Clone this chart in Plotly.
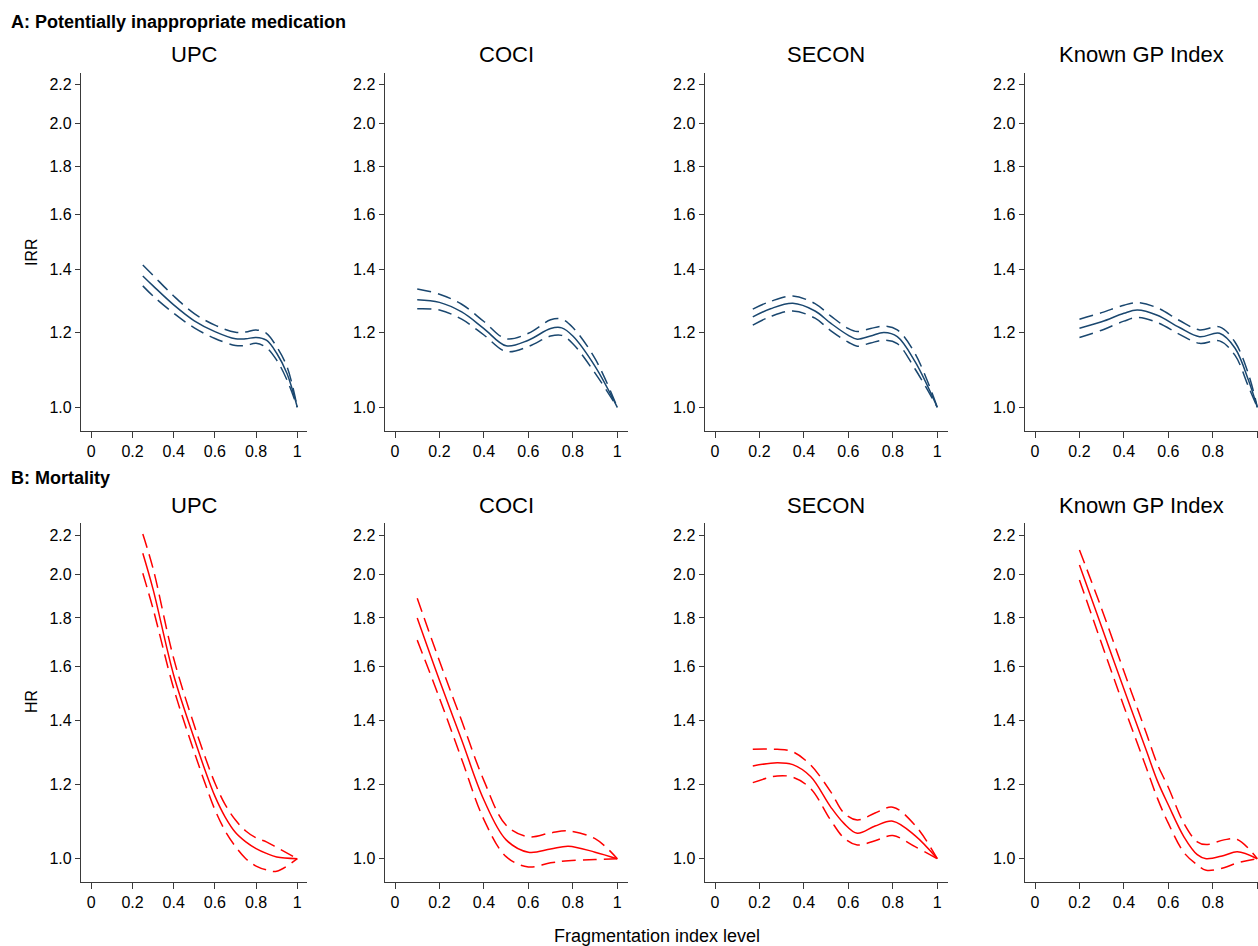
import plotly.graph_objects as go

# Panel A: potentially inappropriate medication (IRR)
a_upc_x = [0.25, 0.3, 0.4, 0.5, 0.6, 0.7, 0.75, 0.8, 0.85, 0.9, 0.95, 1.0]
a_upc_est = [1.378, 1.345, 1.284, 1.235, 1.203, 1.182, 1.182, 1.186, 1.178, 1.141, 1.086, 1.0]
a_upc_hi = [1.415, 1.380, 1.312, 1.257, 1.222, 1.201, 1.202, 1.208, 1.198, 1.159, 1.104, 1.0]
a_upc_lo = [1.345, 1.312, 1.258, 1.214, 1.183, 1.163, 1.163, 1.169, 1.157, 1.122, 1.069, 1.0]

a_coci_x = [0.1, 0.2, 0.3, 0.4, 0.5, 0.6, 0.7, 0.75, 0.8, 0.9, 1.0]
a_coci_est = [1.300, 1.292, 1.262, 1.212, 1.162, 1.178, 1.212, 1.214, 1.190, 1.105, 1.0]
a_coci_hi = [1.335, 1.318, 1.286, 1.233, 1.182, 1.198, 1.238, 1.240, 1.215, 1.126, 1.0]
a_coci_lo = [1.272, 1.268, 1.240, 1.193, 1.146, 1.160, 1.190, 1.192, 1.168, 1.087, 1.0]

a_secon_x = [0.17, 0.25, 0.35, 0.45, 0.52, 0.6, 0.64, 0.7, 0.76, 0.82, 0.9, 1.0]
a_secon_est = [1.247, 1.272, 1.289, 1.265, 1.228, 1.192, 1.181, 1.190, 1.200, 1.188, 1.118, 1.0]
a_secon_hi = [1.271, 1.295, 1.312, 1.288, 1.250, 1.212, 1.203, 1.212, 1.219, 1.208, 1.140, 1.0]
a_secon_lo = [1.222, 1.248, 1.265, 1.243, 1.206, 1.172, 1.161, 1.170, 1.178, 1.168, 1.098, 1.0]

a_kgp_x = [0.2, 0.3, 0.4, 0.46, 0.55, 0.65, 0.74, 0.83, 0.9, 0.96, 1.0]
a_kgp_est = [1.213, 1.232, 1.258, 1.268, 1.252, 1.215, 1.188, 1.198, 1.155, 1.069, 1.0]
a_kgp_hi = [1.240, 1.260, 1.283, 1.291, 1.275, 1.236, 1.208, 1.217, 1.172, 1.085, 1.0]
a_kgp_lo = [1.186, 1.207, 1.234, 1.245, 1.230, 1.195, 1.169, 1.176, 1.135, 1.052, 1.0]

# Panel B: mortality (HR)
b_upc_x = [0.25, 0.3, 0.4, 0.5, 0.55, 0.6, 0.65, 0.7, 0.75, 0.8, 0.85, 0.9, 1.0]
b_upc_est = [2.108, 1.93, 1.565, 1.34, 1.245, 1.165, 1.107, 1.066, 1.042, 1.025, 1.013, 1.004, 1.0]
b_upc_hi = [2.209, 2.03, 1.63, 1.384, 1.286, 1.203, 1.141, 1.099, 1.07, 1.052, 1.042, 1.028, 1.0]
b_upc_lo = [2.007, 1.84, 1.515, 1.297, 1.206, 1.127, 1.07, 1.03, 1.0, 0.982, 0.973, 0.970, 1.0]

b_coci_x = [0.1, 0.2, 0.3, 0.4, 0.5, 0.6, 0.7, 0.78, 0.9, 1.0]
b_coci_est = [1.80, 1.546, 1.336, 1.154, 1.047, 1.016, 1.024, 1.031, 1.016, 1.0]
b_coci_hi = [1.889, 1.62, 1.40, 1.21, 1.085, 1.055, 1.065, 1.07, 1.05, 1.0]
b_coci_lo = [1.705, 1.48, 1.275, 1.10, 1.005, 0.980, 0.990, 0.995, 0.998, 1.0]

b_secon_x = [0.17, 0.28, 0.35, 0.43, 0.52, 0.58, 0.64, 0.72, 0.8, 0.9, 1.0]
b_secon_est = [1.254, 1.264, 1.258, 1.222, 1.135, 1.09, 1.064, 1.083, 1.096, 1.058, 1.0]
b_secon_hi = [1.306, 1.306, 1.298, 1.257, 1.178, 1.118, 1.099, 1.118, 1.134, 1.085, 1.0]
b_secon_lo = [1.204, 1.224, 1.220, 1.187, 1.099, 1.052, 1.034, 1.045, 1.058, 1.030, 1.0]

b_kgp_x = [0.2, 0.3, 0.4, 0.5, 0.55, 0.6, 0.67, 0.73, 0.77, 0.85, 0.91, 1.0]
b_kgp_est = [2.048, 1.76, 1.513, 1.304, 1.21, 1.14, 1.055, 1.01, 1.0, 1.008, 1.017, 1.0]
b_kgp_hi = [2.125, 1.84, 1.58, 1.36, 1.26, 1.19, 1.09, 1.042, 1.035, 1.047, 1.048, 1.0]
b_kgp_lo = [1.975, 1.69, 1.45, 1.25, 1.16, 1.09, 1.015, 0.985, 0.972, 0.978, 0.99, 1.0]

titles = ["UPC", "COCI", "SECON", "Known GP Index"]
y_ticks = [1.0, 1.2, 1.4, 1.6, 1.8, 2.0, 2.2]
y_ticktext = ["1.0", "1.2", "1.4", "1.6", "1.8", "2.0", "2.2"]
x_ticks = [0, 0.2, 0.4, 0.6, 0.8, 1]
x_ticktext = ["0", "0.2", "0.4", "0.6", "0.8", "1"]

panels = [
    (a_upc_x, a_upc_est, a_upc_hi, a_upc_lo),
    (a_coci_x, a_coci_est, a_coci_hi, a_coci_lo),
    (a_secon_x, a_secon_est, a_secon_hi, a_secon_lo),
    (a_kgp_x, a_kgp_est, a_kgp_hi, a_kgp_lo),
    (b_upc_x, b_upc_est, b_upc_hi, b_upc_lo),
    (b_coci_x, b_coci_est, b_coci_hi, b_coci_lo),
    (b_secon_x, b_secon_est, b_secon_hi, b_secon_lo),
    (b_kgp_x, b_kgp_est, b_kgp_hi, b_kgp_lo),
]

W, H = 1258, 946
FONT = "Liberation Sans, Arial, Helvetica, sans-serif"
NAVY = "#1a476f"
RED = "#ff0000"
AXIS = "#3a3a3a"

# pixel layout of the plot areas
col_left = [81.0, 384.7, 704.7, 1024.7]
col_right = [307.3, 627.7, 947.7, 1258.0]
col_zero = [91.3, 395.0, 715.0, 1035.0]
col_unit = [206.0, 222.3, 222.3, 222.3]
row_top = [72.7, 523.3]
row_bottom = [431.0, 881.7]
row_one = [407.3, 858.7]
PX_PER_DECADE = 943.3

fig = go.Figure()
layout = dict(
    width=W, height=H,
    margin=dict(l=0, r=0, t=0, b=0),
    paper_bgcolor="white", plot_bgcolor="white",
    font=dict(family=FONT, color="black"),
    showlegend=False,
)
annotations = []

for k, (x, est, hi, lo) in enumerate(panels):
    r, c = divmod(k, 4)
    color = NAVY if r == 0 else RED
    xa = "x" if k == 0 else f"x{k + 1}"
    ya = "y" if k == 0 else f"y{k + 1}"
    for vals, dash in ((hi, "14px,7px"), (est, "solid"), (lo, "14px,7px")):
        fig.add_trace(go.Scatter(
            x=x, y=vals, xaxis=xa, yaxis=ya, mode="lines",
            line=dict(color=color, width=1.5, dash=dash, shape="spline", smoothing=1.0),
            hoverinfo="skip",
        ))

    x0 = (col_left[c] - col_zero[c]) / col_unit[c]
    x1 = (col_right[c] - col_zero[c]) / col_unit[c]
    y0 = (row_one[r] - row_bottom[r]) / PX_PER_DECADE
    y1 = (row_one[r] - row_top[r]) / PX_PER_DECADE
    xkey = "xaxis" if k == 0 else f"xaxis{k + 1}"
    ykey = "yaxis" if k == 0 else f"yaxis{k + 1}"
    layout[xkey] = dict(
        domain=[col_left[c] / W, col_right[c] / W], anchor=ya,
        range=[x0, x1], tickvals=x_ticks, ticktext=x_ticktext,
        showline=True, linecolor=AXIS, linewidth=1.3,
        ticks="outside", ticklen=6, tickwidth=1.2, tickcolor=AXIS,
        showgrid=False, zeroline=False,
        tickfont=dict(size=16, family=FONT, color="black"),
    )
    layout[ykey] = dict(
        domain=[1 - row_bottom[r] / H, 1 - row_top[r] / H], anchor=xa,
        type="log", range=[y0, y1], tickvals=y_ticks, ticktext=y_ticktext,
        showline=True, linecolor=AXIS, linewidth=1.3,
        ticks="outside", ticklen=5, tickwidth=1.2, tickcolor=AXIS,
        showgrid=False, zeroline=False,
        tickfont=dict(size=16, family=FONT, color="black"),
    )
    annotations.append(dict(
        text=titles[c], xref="paper", yref="paper",
        x=(col_left[c] + min(col_right[c], col_left[c] + 243)) / 2 / W,
        y=1 - (row_top[r] - 18) / H,
        xanchor="center", yanchor="middle", showarrow=False,
        font=dict(size=22, family=FONT, color="black"),
    ))

annotations += [
    dict(text="<b>A: Potentially inappropriate medication</b>", xref="paper", yref="paper",
         x=9 / W, y=1 - 22 / H, xanchor="left", yanchor="middle", showarrow=False,
         font=dict(size=18, family=FONT, color="black")),
    dict(text="<b>B: Mortality</b>", xref="paper", yref="paper",
         x=9 / W, y=1 - 478 / H, xanchor="left", yanchor="middle", showarrow=False,
         font=dict(size=18, family=FONT, color="black")),
    dict(text="IRR", xref="paper", yref="paper", textangle=-90,
         x=31 / W, y=1 - 252 / H, xanchor="center", yanchor="middle", showarrow=False,
         font=dict(size=16, family=FONT, color="black")),
    dict(text="HR", xref="paper", yref="paper", textangle=-90,
         x=31 / W, y=1 - 702 / H, xanchor="center", yanchor="middle", showarrow=False,
         font=dict(size=16, family=FONT, color="black")),
    dict(text="Fragmentation index level", xref="paper", yref="paper",
         x=657 / W, y=1 - 936 / H, xanchor="center", yanchor="middle", showarrow=False,
         font=dict(size=18, family=FONT, color="black")),
]
layout["annotations"] = annotations
fig.update_layout(**layout)

# drop the default 8px page margin so the figure sits at the window's corner
fig.write_html(
    "out.html",
    config={"displayModeBar": False},
    post_script="document.body.style.margin='0';document.body.style.overflow='hidden';",
)
